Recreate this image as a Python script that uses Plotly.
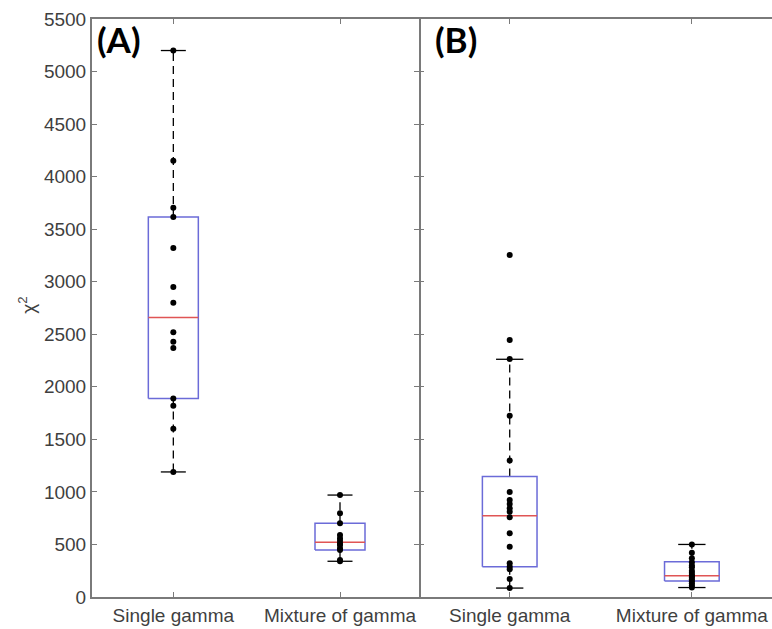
import plotly.graph_objects as go

# ---------------- data ----------------
categories = ["Single gamma", "Mixture of gamma"]
y_ticks = [0, 500, 1000, 1500, 2000, 2500, 3000, 3500, 4000, 4500, 5000, 5500]

# Panel (A): individual chi^2 values
a_single = [5200, 4150, 3705, 3615, 3320, 2950, 2800, 2520, 2430, 2370, 1890, 1820, 1600, 1190]
a_mixture = [970, 797, 702, 590, 560, 536, 510, 495, 465, 448, 352, 340]
# Panel (B): individual chi^2 values
b_single = [3255, 2445, 2265, 1725, 1298, 1000, 924, 886, 845, 812, 759, 606, 479, 321, 289, 264, 171, 85]
b_mixture = [500, 422, 368, 330, 300, 283, 250, 230, 210, 200, 185, 170, 150, 130, 110, 90]

# box statistics as drawn: [single, mixture]
a_q1 = [1890, 448]
a_median = [2660, 520]
a_q3 = [3615, 702]
a_low = [1190, 340]
a_high = [5200, 970]

b_q1 = [287, 152]
b_median = [774, 202]
b_q3 = [1146, 335]
b_low = [85, 90]
b_high = [2262, 500]

panel_labels = ["(A)", "(B)"]

# ---------------- styles ----------------
BOX_COLOR = "#6b6bd8"
MED_COLOR = "#e05555"
AXIS_COLOR = "#7a7a7a"
TEXT_COLOR = "#3f3f3f"
FONT = "Liberation Sans, Arial, sans-serif"
HALF = 0.15
CAP = 0.075

fig = go.Figure()


def add_panel(xa, ya, points, q1, med, q3, lo, hi):
    for i in range(len(categories)):
        c = i + 1
        # whiskers (dashed)
        fig.add_trace(go.Scatter(x=[c, c, None, c, c], y=[q3[i], hi[i], None, q1[i], lo[i]],
                                 mode="lines", line=dict(color="black", width=1.3, dash="8px,5px"),
                                 xaxis=xa, yaxis=ya, hoverinfo="skip", showlegend=False))
        # caps
        fig.add_trace(go.Scatter(x=[c - CAP, c + CAP, None, c - CAP, c + CAP],
                                 y=[hi[i], hi[i], None, lo[i], lo[i]],
                                 mode="lines", line=dict(color="black", width=1.3),
                                 xaxis=xa, yaxis=ya, hoverinfo="skip", showlegend=False))
        # box
        fig.add_trace(go.Scatter(x=[c - HALF, c + HALF, c + HALF, c - HALF, c - HALF],
                                 y=[q1[i], q1[i], q3[i], q3[i], q1[i]],
                                 mode="lines", line=dict(color=BOX_COLOR, width=1.5),
                                 xaxis=xa, yaxis=ya, hoverinfo="skip", showlegend=False))
        # median
        fig.add_trace(go.Scatter(x=[c - HALF, c + HALF], y=[med[i], med[i]],
                                 mode="lines", line=dict(color=MED_COLOR, width=1.5),
                                 xaxis=xa, yaxis=ya, hoverinfo="skip", showlegend=False))
        # points
        fig.add_trace(go.Scatter(x=[c] * len(points[i]), y=points[i], mode="markers",
                                 marker=dict(color="black", size=6),
                                 xaxis=xa, yaxis=ya, showlegend=False))


add_panel("x", "y", [a_single, a_mixture], a_q1, a_median, a_q3, a_low, a_high)
add_panel("x2", "y2", [b_single, b_mixture], b_q1, b_median, b_q3, b_low, b_high)

axis_common = dict(linecolor=AXIS_COLOR, linewidth=2, ticks="inside",
                   ticklen=5, tickcolor=AXIS_COLOR, tickwidth=1, showgrid=False, zeroline=False,
                   tickfont=dict(family=FONT, size=19, color=TEXT_COLOR))

split = 327 / 680

fig.update_layout(
    width=772, height=629,
    margin=dict(l=92, r=0, t=19, b=32),
    paper_bgcolor="white", plot_bgcolor="white",
    xaxis=dict(domain=[0, split], range=[0.512, 2.474], tickvals=[1, 2], ticktext=categories,
               showline=True, mirror="ticks", anchor="y", **axis_common),
    yaxis=dict(domain=[0, 1], range=[0, 5500], tickvals=y_ticks, ticktext=[str(v) for v in y_ticks],
               showline=True, mirror="ticks", anchor="x", **axis_common),
    xaxis2=dict(domain=[split, 1], range=[0.502, 2.44], tickvals=[1, 2], ticktext=categories,
                showline=True, mirror="ticks", anchor="y2", **axis_common),
    yaxis2=dict(domain=[0, 1], range=[0, 5500], tickvals=y_ticks, showticklabels=False,
                showline=False, mirror=False, anchor="x2", **axis_common),
)

fig.add_annotation(text="χ<sup>2</sup>", xref="paper", yref="paper", x=-0.096, y=0.505,
                   textangle=-90, showarrow=False, xanchor="center", yanchor="middle",
                   font=dict(family=FONT, size=19, color=TEXT_COLOR))

for lab, xp in zip(panel_labels, [(95 - 92) / 680, (433 - 92) / 680]):
    fig.add_annotation(text="<b>" + lab + "</b>", xref="paper", yref="paper", x=xp, y=0.965,
                       showarrow=False, xanchor="left", yanchor="middle",
                       font=dict(family="Lato, Open Sans, sans-serif", size=35, color="black"))

fig.write_html("out.html")
